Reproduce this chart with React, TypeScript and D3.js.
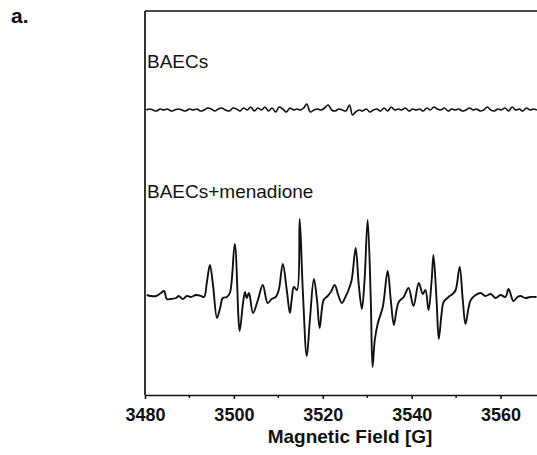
import React, { useRef, useEffect } from 'react';
import * as d3 from 'd3';

// BAECs + menadione spectrum: [field (G), intensity (a.u.)]
const menadioneSpectrum: [number, number][] = [
	[3480.4, 1], [3481.3, 0], [3482.5, 0], [3483.6, 3], [3484.3, 5], [3484.9, -3], [3485.8, -3], [3487.0, -2],
	[3487.6, 0], [3488.5, -3], [3489.4, 0], [3490.3, -1], [3491.5, 1], [3492.6, 0], [3493.3, -1], [3493.9, 13],
	[3494.6, 31], [3495.3, 11], [3496.2, -22], [3496.9, -12], [3497.5, -2], [3498.4, -1], [3499.1, 3], [3500.2, 52],
	[3501.3, -35], [3502.0, -9], [3502.5, 4], [3502.9, -2], [3503.4, 3], [3504.3, -17], [3505.4, -4], [3506.5, 11],
	[3507.6, -7], [3508.5, -3], [3509.4, -1], [3510.1, 6], [3511.0, 32], [3511.9, 6], [3512.6, -17], [3513.0, -4],
	[3513.5, 9], [3514.2, 6], [3514.8, 77], [3515.5, 6], [3516.4, -60], [3517.1, -24], [3518.0, 17], [3518.7, -4],
	[3519.3, -32], [3520.2, -4], [3521.1, 0], [3521.8, 4], [3522.7, 11], [3523.4, 2], [3524.3, -7], [3525.2, 0],
	[3525.8, 6], [3526.5, 16], [3527.4, 48], [3528.1, 11], [3528.8, -13], [3529.4, 16], [3530.1, 76], [3530.8, -4],
	[3531.2, -71], [3531.7, -44], [3532.4, -27], [3533.5, -11], [3534.6, 25], [3535.3, -4], [3536.0, -29], [3536.6, -14],
	[3537.1, -6], [3538.2, -1], [3539.3, 8], [3540.4, -10], [3541.6, 13], [3542.5, 2], [3543.1, 6], [3543.8, -14],
	[3544.5, 16], [3544.9, 41], [3545.6, -4], [3546.1, -43], [3546.7, -19], [3547.2, -6], [3548.3, -1], [3549.2, 2],
	[3549.9, 6], [3550.8, 29], [3551.5, -4], [3552.1, -28], [3552.8, -12], [3553.3, -4], [3554.4, 1], [3555.5, 3],
	[3556.6, 0], [3557.8, 2], [3558.9, -2], [3560.0, 1], [3561.1, -1], [3561.8, 7], [3562.9, -5], [3563.8, -1],
	[3564.5, 0], [3565.6, -2], [3566.7, -1], [3568.1, -1],
];

// BAECs (control) spectrum: [field (G), intensity (a.u.)]
const controlSpectrum: [number, number][] = [
	[3480.3, 0], [3481.0, 1], [3481.8, 0], [3482.6, -1], [3483.4, 1], [3484.2, 0], [3485.0, 1], [3485.8, -1],
	[3486.7, 0], [3487.5, 1], [3488.3, 0], [3489.1, -1], [3490.0, 1], [3490.8, 0], [3491.7, 1], [3492.5, -1],
	[3493.3, 0], [3494.1, 2], [3494.9, 1], [3495.7, -1], [3496.5, 1], [3497.3, 2], [3498.1, 0], [3499.0, -1],
	[3499.8, 2], [3500.6, 1], [3501.4, -1], [3502.2, 2], [3503.0, 0], [3503.8, 3], [3504.6, -1], [3505.4, 2],
	[3506.2, 0], [3507.0, 3], [3507.8, -1], [3508.6, 2], [3509.4, -2], [3510.2, 3], [3511.0, 1], [3511.8, -2],
	[3512.6, 2], [3513.4, 0], [3514.2, 1], [3515.0, 0], [3515.7, 2], [3516.4, 6], [3517.2, -2], [3518.0, 0],
	[3518.8, 1], [3519.6, 0], [3520.4, 2], [3521.2, 5], [3522.0, 0], [3522.8, -1], [3523.6, 1], [3524.4, 0],
	[3525.2, -1], [3526.0, 5], [3526.7, -5], [3527.4, -2], [3528.2, 0], [3529.0, -1], [3529.8, 1], [3530.6, -2],
	[3531.4, 0], [3532.2, 1], [3533.0, -1], [3533.8, 2], [3534.6, -1], [3535.4, 3], [3536.2, 0], [3537.0, 1],
	[3537.8, 0], [3538.6, 2], [3539.4, -1], [3540.2, 1], [3541.0, 0], [3541.8, 1], [3542.6, -1], [3543.4, 2],
	[3544.2, 0], [3545.0, 3], [3545.8, 1], [3546.6, 0], [3547.4, 2], [3548.2, -1], [3549.0, 1], [3549.8, 0],
	[3550.6, 1], [3551.4, -1], [3552.2, 0], [3553.0, 2], [3553.8, 0], [3554.6, 1], [3555.4, -1], [3556.2, 0],
	[3557.0, 3], [3557.8, 0], [3558.6, -1], [3559.4, 1], [3560.2, 0], [3561.0, 2], [3561.8, -1], [3562.6, 3],
	[3563.4, 0], [3564.2, 1], [3565.0, -1], [3565.8, 2], [3566.6, 0], [3567.4, 1], [3568.2, 0],
];

const controlOffset = 186;
const xTicks = [3480, 3500, 3520, 3540, 3560];
const xMinorTicks = [3490, 3510, 3530, 3550, 3570];

export default function App() {
	const svgWidth = 537;
	const svgHeight = 455;
	const ref = useRef<SVGSVGElement>(null);

	useEffect(() => {
		if (!ref.current) return;
		const left = 145;
		const top = 11;
		const bottom = 395;

		const svg = d3.select(ref.current);
		svg.selectAll('*').remove();

		const xScale = d3.scaleLinear().domain([3480, 3570]).range([left, 545]);
		const yScale = d3.scaleLinear().domain([-100, 285]).range([bottom + 1, top]);

		const font = 'Liberation Sans, Arial, sans-serif';

		// frame: left and top edges (right edge is cropped in the original)
		svg.append('line').attr('x1', left).attr('x2', left).attr('y1', top).attr('y2', bottom)
			.attr('stroke', '#111').attr('stroke-width', 1.7);
		svg.append('line').attr('x1', left).attr('x2', svgWidth).attr('y1', top).attr('y2', top)
			.attr('stroke', '#111').attr('stroke-width', 1.7);

		const xAxis = d3.axisBottom(xScale).tickValues(xTicks).tickFormat(d3.format('d'))
			.tickSize(4).tickSizeOuter(0).tickPadding(9);

		const gx = svg.append('g').attr('transform', `translate(0,${bottom})`).call(xAxis);
		gx.select('.domain').attr('stroke', '#111').attr('stroke-width', 1.7);
		gx.selectAll('.tick line').attr('stroke', '#111').attr('stroke-width', 1.6);
		gx.selectAll('.tick text').attr('fill', '#111').style('font-family', font)
			.style('font-size', '18px').style('font-weight', 'bold');

		gx.selectAll('.minor').data(xMinorTicks).enter().append('line').attr('class', 'minor')
			.attr('x1', (d) => xScale(d)).attr('x2', (d) => xScale(d)).attr('y1', 0).attr('y2', 3)
			.attr('stroke', '#111').attr('stroke-width', 1.4);

		const line = d3.line<[number, number]>()
			.x((d) => xScale(d[0]))
			.y((d) => yScale(d[1]))
			.curve(d3.curveCatmullRom.alpha(0.5));

		svg.append('path').datum(controlSpectrum.map((d) => [d[0], d[1] + controlOffset] as [number, number]))
			.attr('d', line).attr('fill', 'none').attr('stroke', '#111').attr('stroke-width', 1.6)
			.attr('stroke-linejoin', 'round');
		svg.append('path').datum(menadioneSpectrum)
			.attr('d', line).attr('fill', 'none').attr('stroke', '#111').attr('stroke-width', 1.9)
			.attr('stroke-linejoin', 'round');

		svg.append('text').attr('x', 147).attr('y', 68).text('BAECs')
			.style('font-family', font).style('font-size', '19px').attr('fill', '#111');
		svg.append('text').attr('x', 147).attr('y', 198).text('BAECs+menadione')
			.style('font-family', font).style('font-size', '19px').attr('fill', '#111');

		svg.append('text').attr('x', 350).attr('y', 443).attr('text-anchor', 'middle')
			.text('Magnetic Field [G]').style('font-family', font).style('font-size', '19px')
			.style('font-weight', 'bold').attr('fill', '#111');

		svg.append('text').attr('x', 11).attr('y', 23).text('a.')
			.style('font-family', font).style('font-size', '21px').style('font-weight', 'bold').attr('fill', '#111');
	}, []);

	return (
		<svg ref={ref} width={svgWidth} height={svgHeight}
			style={{ position: 'absolute', left: 0, top: 0, background: '#fff' }} />
	);
}
